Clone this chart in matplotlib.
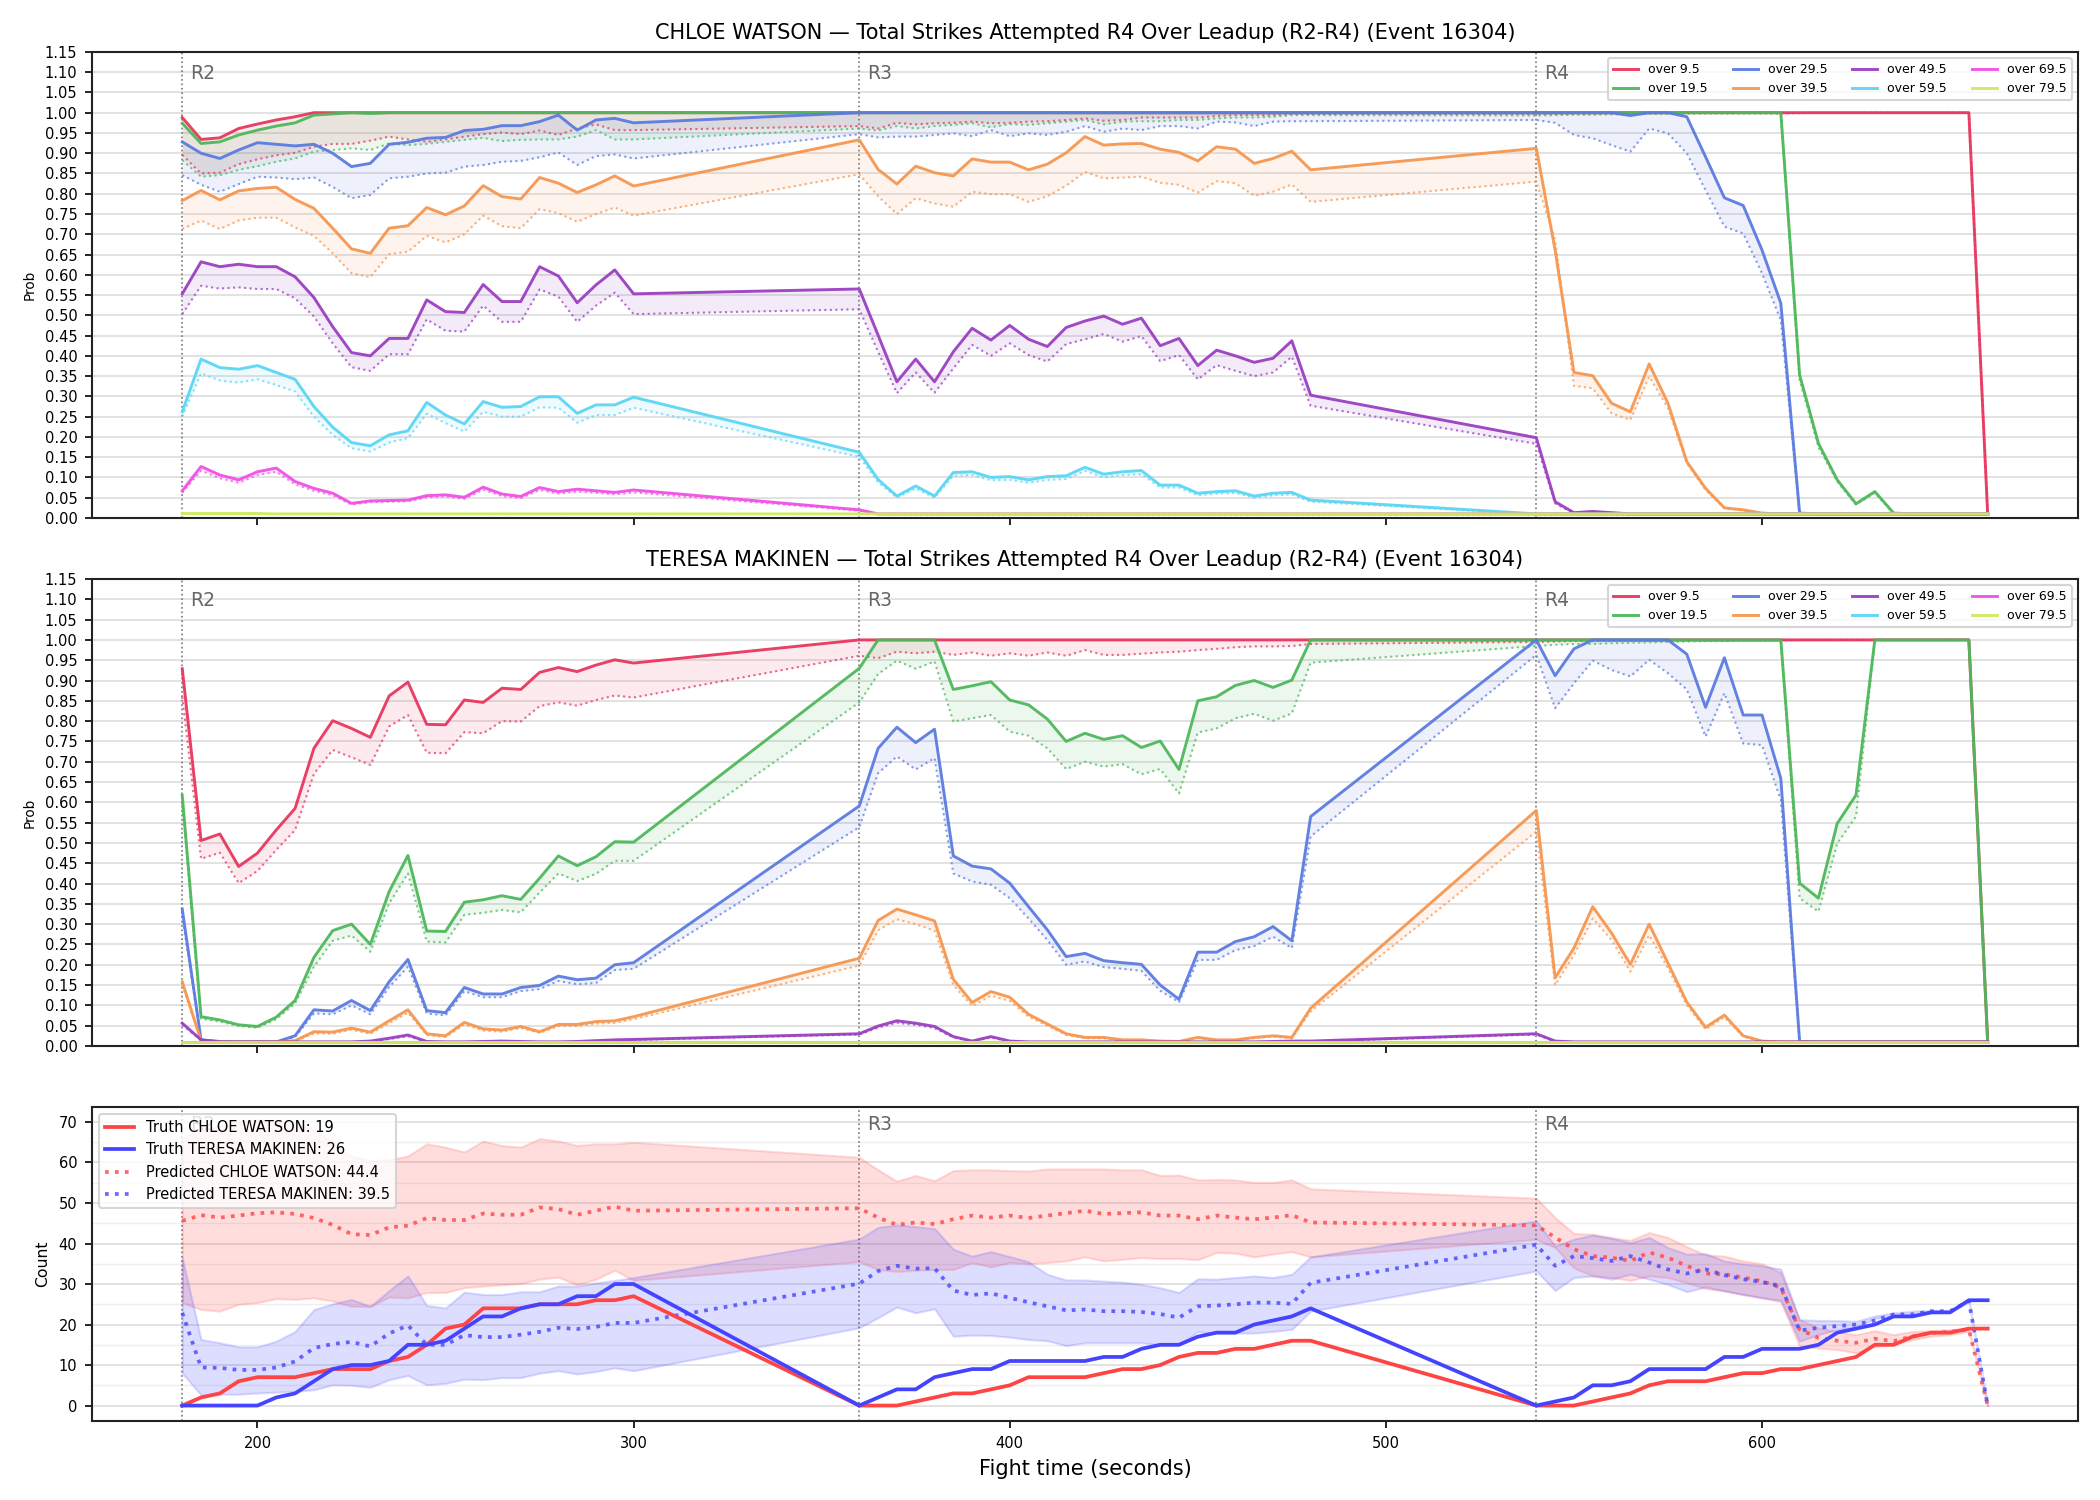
import matplotlib
matplotlib.use("Agg")
import matplotlib.pyplot as plt
import matplotlib.transforms as mtransforms
from matplotlib.ticker import MultipleLocator, FormatStrFormatter

plt.rcParams['font.family'] = ['DejaVu Sans']

# ---------------- time grid (seconds) ----------------
T = [180, 185, 190, 195, 200, 205, 210, 215, 220, 225, 230, 235, 240, 245, 250, 255, 260, 265, 270, 275, 280, 285, 290, 295, 300,
     360, 365, 370, 375, 380, 385, 390, 395, 400, 405, 410, 415, 420, 425, 430, 435, 440, 445, 450, 455, 460, 465, 470, 475, 480,
     540, 545, 550, 555, 560, 565, 570, 575, 580, 585, 590, 595, 600, 605, 610, 615, 620, 625, 630, 635, 640, 645, 650, 655, 660]

round_starts = [180, 360, 540]
round_labels = ["R2", "R3", "R4"]

line_labels = ["over 9.5", "over 19.5", "over 29.5", "over 39.5",
               "over 49.5", "over 59.5", "over 69.5", "over 79.5"]
line_colors = ["#e8365d", "#4db85a", "#5b7be0", "#f7964f",
               "#9b3fc2", "#5ad6f5", "#f24fe6", "#cdeb5f"]

# ---------------- CHLOE WATSON (solid = live, dotted = predicted) ----------------
c_s95 = ([0.988, 0.934, 0.938, 0.961, 0.972, 0.982, 0.990, 1, 1, 1, 1, 1, 1, 1, 1, 1, 1, 1, 1, 1, 1, 1, 1, 1, 1]
         + [1, 1, 1, 1, 1, 1, 1, 1, 1, 1, 1, 1, 1, 1, 1, 1, 1, 1, 1, 1, 1, 1, 1, 1, 1]
         + [1, 1, 1, 1, 1, 1, 1, 1, 1, 1, 1, 1, 1, 1, 1, 1, 1, 1, 1, 1, 1, 1, 1, 1, 0.01])
c_d95 = ([0.896, 0.850, 0.852, 0.873, 0.885, 0.895, 0.901, 0.916, 0.923, 0.923, 0.931, 0.941, 0.934, 0.928, 0.934, 0.941, 0.947, 0.951, 0.947, 0.956, 0.945, 0.961, 0.971, 0.957, 0.957]
         + [0.967, 0.961, 0.975, 0.971, 0.974, 0.975, 0.978, 0.974, 0.975, 0.978, 0.979, 0.982, 0.986, 0.980, 0.982, 0.988, 0.988, 0.988, 0.988, 0.992, 0.994, 0.994, 0.994, 0.997, 0.997]
         + [0.997, 0.997, 0.998, 0.998, 0.998, 0.998, 0.999, 0.999, 0.999, 0.999, 0.999, 0.999, 0.999, 0.998, 0.999, 1, 1, 1, 1, 1, 1, 1, 1, 1, 0.01])
c_s195 = ([0.974, 0.924, 0.928, 0.945, 0.957, 0.967, 0.975, 0.994, 0.997, 1, 0.998, 1, 1, 1, 1, 1, 1, 1, 1, 1, 1, 1, 1, 1, 1]
          + [1, 1, 1, 1, 1, 1, 1, 1, 1, 1, 1, 1, 1, 1, 1, 1, 1, 1, 1, 1, 1, 1, 1, 1, 1]
          + [1, 1, 1, 1, 1, 1, 1, 1, 1, 1, 1, 1, 1, 1, 0.353, 0.184, 0.094, 0.035, 0.065, 0.012, 0.01, 0.01, 0.01, 0.01, 0.01])
c_d195 = ([0.883, 0.842, 0.846, 0.859, 0.868, 0.879, 0.887, 0.904, 0.908, 0.912, 0.908, 0.924, 0.920, 0.923, 0.928, 0.933, 0.938, 0.930, 0.933, 0.934, 0.934, 0.941, 0.957, 0.934, 0.934]
          + [0.961, 0.956, 0.967, 0.961, 0.967, 0.970, 0.974, 0.964, 0.972, 0.970, 0.974, 0.978, 0.982, 0.971, 0.978, 0.979, 0.979, 0.982, 0.982, 0.986, 0.988, 0.988, 0.990, 0.994, 0.994]
          + [0.993, 0.994, 0.995, 0.995, 0.996, 0.996, 0.997, 0.997, 0.998, 0.998, 0.998, 0.998, 0.998, 0.998, 0.340, 0.175, 0.090, 0.033, 0.062, 0.011, 0.01, 0.01, 0.01, 0.01, 0.01])
c_s295 = ([0.928, 0.900, 0.887, 0.908, 0.926, 0.922, 0.918, 0.922, 0.900, 0.867, 0.875, 0.922, 0.927, 0.937, 0.939, 0.956, 0.959, 0.968, 0.968, 0.978, 0.994, 0.957, 0.982, 0.986, 0.975]
          + [1, 1, 1, 1, 1, 1, 1, 1, 1, 1, 1, 1, 1, 1, 1, 1, 1, 1, 1, 1, 1, 1, 1, 1, 1]
          + [1, 1, 1, 1, 1, 0.993, 1, 1, 0.990, 0.891, 0.790, 0.771, 0.661, 0.530, 0.012, 0.01, 0.01, 0.01, 0.01, 0.01, 0.01, 0.01, 0.01, 0.01, 0.01])
c_d295 = ([0.846, 0.822, 0.805, 0.824, 0.842, 0.840, 0.836, 0.840, 0.817, 0.789, 0.797, 0.838, 0.842, 0.850, 0.852, 0.867, 0.871, 0.879, 0.881, 0.890, 0.902, 0.871, 0.893, 0.897, 0.887]
          + [0.947, 0.939, 0.941, 0.941, 0.945, 0.949, 0.942, 0.957, 0.942, 0.949, 0.945, 0.953, 0.967, 0.953, 0.961, 0.957, 0.967, 0.967, 0.961, 0.978, 0.976, 0.967, 0.978, 0.979, 0.979]
          + [0.982, 0.975, 0.945, 0.937, 0.920, 0.904, 0.961, 0.949, 0.900, 0.809, 0.719, 0.702, 0.604, 0.488, 0.012, 0.01, 0.01, 0.01, 0.01, 0.01, 0.01, 0.01, 0.01, 0.01, 0.01])
c_s395 = ([0.783, 0.808, 0.785, 0.807, 0.813, 0.816, 0.786, 0.764, 0.715, 0.664, 0.653, 0.715, 0.721, 0.766, 0.748, 0.770, 0.820, 0.793, 0.787, 0.840, 0.826, 0.803, 0.822, 0.844, 0.819]
          + [0.933, 0.860, 0.824, 0.868, 0.852, 0.844, 0.886, 0.878, 0.878, 0.859, 0.873, 0.901, 0.941, 0.920, 0.923, 0.924, 0.910, 0.902, 0.881, 0.916, 0.910, 0.875, 0.887, 0.905, 0.859]
          + [0.912, 0.661, 0.359, 0.351, 0.283, 0.262, 0.380, 0.283, 0.139, 0.073, 0.025, 0.020, 0.012, 0.01, 0.01, 0.01, 0.01, 0.01, 0.01, 0.01, 0.01, 0.01, 0.01, 0.01, 0.01])
c_d395 = ([0.713, 0.734, 0.713, 0.734, 0.741, 0.741, 0.717, 0.696, 0.653, 0.604, 0.594, 0.651, 0.657, 0.696, 0.680, 0.700, 0.746, 0.720, 0.715, 0.762, 0.752, 0.731, 0.750, 0.766, 0.746]
          + [0.848, 0.794, 0.750, 0.789, 0.776, 0.768, 0.805, 0.799, 0.799, 0.780, 0.794, 0.820, 0.854, 0.838, 0.840, 0.842, 0.827, 0.822, 0.803, 0.831, 0.826, 0.795, 0.805, 0.823, 0.780]
          + [0.830, 0.686, 0.326, 0.320, 0.258, 0.242, 0.349, 0.271, 0.135, 0.069, 0.024, 0.018, 0.011, 0.01, 0.01, 0.01, 0.01, 0.01, 0.01, 0.01, 0.01, 0.01, 0.01, 0.01, 0.01])
c_s495 = ([0.553, 0.632, 0.620, 0.626, 0.620, 0.620, 0.595, 0.544, 0.472, 0.408, 0.400, 0.443, 0.443, 0.538, 0.509, 0.507, 0.576, 0.534, 0.534, 0.620, 0.597, 0.531, 0.575, 0.612, 0.553]
          + [0.565, 0.451, 0.336, 0.392, 0.336, 0.410, 0.468, 0.439, 0.475, 0.441, 0.423, 0.470, 0.486, 0.498, 0.478, 0.493, 0.425, 0.443, 0.376, 0.414, 0.400, 0.384, 0.394, 0.437, 0.303]
          + [0.198, 0.040, 0.013, 0.016, 0.013, 0.01, 0.01, 0.01, 0.01, 0.01, 0.01, 0.01, 0.01, 0.01, 0.01, 0.01, 0.01, 0.01, 0.01, 0.01, 0.01, 0.01, 0.01, 0.01, 0.01])
c_d495 = ([0.503, 0.573, 0.566, 0.569, 0.565, 0.565, 0.542, 0.497, 0.431, 0.372, 0.363, 0.404, 0.404, 0.490, 0.462, 0.460, 0.524, 0.484, 0.484, 0.564, 0.546, 0.484, 0.524, 0.556, 0.503]
          + [0.515, 0.410, 0.308, 0.359, 0.309, 0.369, 0.427, 0.400, 0.431, 0.402, 0.386, 0.429, 0.441, 0.454, 0.435, 0.449, 0.387, 0.402, 0.342, 0.377, 0.363, 0.350, 0.359, 0.398, 0.277]
          + [0.183, 0.036, 0.011, 0.013, 0.011, 0.01, 0.01, 0.01, 0.01, 0.01, 0.01, 0.01, 0.01, 0.01, 0.01, 0.01, 0.01, 0.01, 0.01, 0.01, 0.01, 0.01, 0.01, 0.01, 0.01])
c_s595 = ([0.262, 0.392, 0.371, 0.367, 0.376, 0.359, 0.342, 0.275, 0.224, 0.186, 0.178, 0.205, 0.215, 0.285, 0.254, 0.232, 0.287, 0.273, 0.275, 0.299, 0.299, 0.258, 0.279, 0.279, 0.298]
          + [0.162, 0.095, 0.054, 0.079, 0.054, 0.112, 0.114, 0.100, 0.102, 0.094, 0.102, 0.104, 0.125, 0.108, 0.114, 0.117, 0.081, 0.081, 0.061, 0.065, 0.067, 0.054, 0.061, 0.063, 0.044]
          + [0.01, 0.01, 0.01, 0.01, 0.01, 0.01, 0.01, 0.01, 0.01, 0.01, 0.01, 0.01, 0.01, 0.01, 0.01, 0.01, 0.01, 0.01, 0.01, 0.01, 0.01, 0.01, 0.01, 0.01, 0.01])
c_d595 = ([0.250, 0.357, 0.339, 0.334, 0.342, 0.328, 0.312, 0.250, 0.205, 0.172, 0.164, 0.186, 0.197, 0.257, 0.234, 0.213, 0.262, 0.250, 0.250, 0.273, 0.272, 0.235, 0.254, 0.254, 0.272]
          + [0.151, 0.088, 0.050, 0.073, 0.050, 0.104, 0.106, 0.093, 0.094, 0.087, 0.094, 0.096, 0.116, 0.100, 0.106, 0.108, 0.075, 0.075, 0.056, 0.060, 0.062, 0.050, 0.056, 0.058, 0.040]
          + [0.009, 0.009, 0.009, 0.009, 0.009, 0.009, 0.009, 0.009, 0.009, 0.009, 0.009, 0.009, 0.009, 0.009, 0.009, 0.009, 0.009, 0.009, 0.009, 0.009, 0.009, 0.009, 0.009, 0.009, 0.009])
c_s695 = ([0.067, 0.127, 0.106, 0.094, 0.114, 0.123, 0.090, 0.073, 0.061, 0.036, 0.042, 0.043, 0.044, 0.055, 0.057, 0.051, 0.076, 0.059, 0.053, 0.075, 0.065, 0.071, 0.067, 0.063, 0.069]
          + [0.020, 0.01, 0.01, 0.01, 0.01, 0.01, 0.01, 0.01, 0.01, 0.01, 0.01, 0.01, 0.01, 0.01, 0.01, 0.01, 0.01, 0.01, 0.01, 0.01, 0.01, 0.01, 0.01, 0.01, 0.01]
          + [0.01, 0.01, 0.01, 0.01, 0.01, 0.01, 0.01, 0.01, 0.01, 0.01, 0.01, 0.01, 0.01, 0.01, 0.01, 0.01, 0.01, 0.01, 0.01, 0.01, 0.01, 0.01, 0.01, 0.01, 0.01])
c_d695 = ([0.062, 0.117, 0.098, 0.087, 0.106, 0.114, 0.083, 0.067, 0.056, 0.033, 0.039, 0.040, 0.041, 0.051, 0.053, 0.047, 0.070, 0.054, 0.049, 0.069, 0.060, 0.065, 0.062, 0.058, 0.063]
          + [0.018, 0.009, 0.009, 0.009, 0.009, 0.009, 0.009, 0.009, 0.009, 0.009, 0.009, 0.009, 0.009, 0.009, 0.009, 0.009, 0.009, 0.009, 0.009, 0.009, 0.009, 0.009, 0.009, 0.009, 0.009]
          + [0.009, 0.009, 0.009, 0.009, 0.009, 0.009, 0.009, 0.009, 0.009, 0.009, 0.009, 0.009, 0.009, 0.009, 0.009, 0.009, 0.009, 0.009, 0.009, 0.009, 0.009, 0.009, 0.009, 0.009, 0.009])
c_s795 = ([0.011, 0.011, 0.011, 0.011, 0.011, 0.010, 0.010, 0.010, 0.010, 0.010, 0.010, 0.010, 0.010, 0.010, 0.010, 0.010, 0.010, 0.010, 0.010, 0.010, 0.010, 0.010, 0.010, 0.010, 0.010]
          + [0.01, 0.01, 0.01, 0.01, 0.01, 0.01, 0.01, 0.01, 0.01, 0.01, 0.01, 0.01, 0.01, 0.01, 0.01, 0.01, 0.01, 0.01, 0.01, 0.01, 0.01, 0.01, 0.01, 0.01, 0.01]
          + [0.01, 0.01, 0.01, 0.01, 0.01, 0.01, 0.01, 0.01, 0.01, 0.01, 0.01, 0.01, 0.01, 0.01, 0.01, 0.01, 0.01, 0.01, 0.01, 0.01, 0.01, 0.01, 0.01, 0.01, 0.01])
c_d795 = ([0.009, 0.009, 0.009, 0.009, 0.009, 0.009, 0.009, 0.009, 0.009, 0.009, 0.009, 0.009, 0.009, 0.009, 0.009, 0.009, 0.009, 0.009, 0.009, 0.009, 0.009, 0.009, 0.009, 0.009, 0.009]
          + [0.009, 0.009, 0.009, 0.009, 0.009, 0.009, 0.009, 0.009, 0.009, 0.009, 0.009, 0.009, 0.009, 0.009, 0.009, 0.009, 0.009, 0.009, 0.009, 0.009, 0.009, 0.009, 0.009, 0.009, 0.009]
          + [0.009, 0.009, 0.009, 0.009, 0.009, 0.009, 0.009, 0.009, 0.009, 0.009, 0.009, 0.009, 0.009, 0.009, 0.009, 0.009, 0.009, 0.009, 0.009, 0.009, 0.009, 0.009, 0.009, 0.009, 0.009])

# ---------------- TERESA MAKINEN ----------------
t_s95 = ([0.929, 0.506, 0.522, 0.442, 0.475, 0.532, 0.585, 0.733, 0.801, 0.782, 0.760, 0.862, 0.896, 0.792, 0.791, 0.852, 0.846, 0.881, 0.878, 0.920, 0.932, 0.922, 0.938, 0.951, 0.943]
         + [1, 1, 1, 1, 1, 1, 1, 1, 1, 1, 1, 1, 1, 1, 1, 1, 1, 1, 1, 1, 1, 1, 1, 1, 1]
         + [1, 1, 1, 1, 1, 1, 1, 1, 1, 1, 1, 1, 1, 1, 1, 1, 1, 1, 1, 1, 1, 1, 1, 1, 0.01])
t_d95 = ([0.860, 0.461, 0.476, 0.401, 0.431, 0.483, 0.532, 0.670, 0.729, 0.711, 0.692, 0.787, 0.815, 0.722, 0.721, 0.773, 0.770, 0.800, 0.799, 0.837, 0.846, 0.838, 0.852, 0.863, 0.858]
         + [0.961, 0.955, 0.971, 0.967, 0.971, 0.963, 0.969, 0.961, 0.967, 0.961, 0.969, 0.961, 0.975, 0.963, 0.963, 0.966, 0.969, 0.971, 0.975, 0.978, 0.982, 0.984, 0.984, 0.985, 0.990]
         + [0.995, 0.996, 0.997, 0.997, 0.998, 0.998, 0.998, 0.999, 0.999, 0.999, 0.999, 0.999, 0.999, 0.999, 1, 1, 1, 1, 1, 1, 1, 1, 1, 1, 0.01])
t_s195 = ([0.617, 0.072, 0.064, 0.052, 0.048, 0.071, 0.112, 0.218, 0.284, 0.300, 0.250, 0.380, 0.469, 0.283, 0.282, 0.354, 0.360, 0.370, 0.361, 0.413, 0.468, 0.444, 0.466, 0.503, 0.502]
          + [0.930, 1, 1, 1, 1, 0.878, 0.887, 0.897, 0.852, 0.840, 0.805, 0.750, 0.770, 0.755, 0.764, 0.735, 0.751, 0.681, 0.850, 0.860, 0.888, 0.900, 0.883, 0.901, 1]
          + [1, 1, 1, 1, 1, 1, 1, 1, 1, 1, 1, 1, 1, 1, 0.401, 0.364, 0.548, 0.618, 1, 1, 1, 1, 1, 1, 0.01])
t_d195 = ([0.600, 0.067, 0.060, 0.049, 0.045, 0.066, 0.105, 0.195, 0.259, 0.272, 0.232, 0.351, 0.425, 0.257, 0.255, 0.323, 0.328, 0.335, 0.329, 0.378, 0.425, 0.406, 0.424, 0.456, 0.456]
          + [0.846, 0.916, 0.949, 0.929, 0.947, 0.799, 0.807, 0.815, 0.774, 0.764, 0.733, 0.682, 0.700, 0.688, 0.694, 0.669, 0.682, 0.622, 0.772, 0.782, 0.807, 0.818, 0.801, 0.819, 0.944]
          + [0.985, 0.988, 0.990, 0.990, 0.992, 0.993, 0.994, 0.995, 0.996, 0.997, 0.997, 0.998, 0.998, 0.998, 0.364, 0.331, 0.499, 0.565, 1, 1, 1, 1, 1, 1, 0.01])
t_s295 = ([0.337, 0.015, 0.011, 0.010, 0.010, 0.010, 0.025, 0.089, 0.086, 0.112, 0.087, 0.158, 0.213, 0.087, 0.082, 0.144, 0.128, 0.128, 0.144, 0.149, 0.172, 0.163, 0.167, 0.200, 0.205]
          + [0.591, 0.733, 0.785, 0.747, 0.780, 0.468, 0.443, 0.436, 0.401, 0.343, 0.286, 0.220, 0.228, 0.210, 0.205, 0.201, 0.150, 0.115, 0.231, 0.231, 0.257, 0.269, 0.294, 0.259, 0.565]
          + [1, 0.912, 0.978, 1, 1, 1, 1, 1, 0.965, 0.834, 0.956, 0.815, 0.815, 0.659, 0.011, 0.01, 0.01, 0.01, 0.01, 0.01, 0.01, 0.01, 0.01, 0.01, 0.01])
t_d295 = ([0.320, 0.014, 0.010, 0.010, 0.010, 0.010, 0.022, 0.080, 0.078, 0.100, 0.078, 0.145, 0.195, 0.080, 0.075, 0.135, 0.120, 0.120, 0.135, 0.140, 0.160, 0.152, 0.155, 0.187, 0.190]
          + [0.539, 0.672, 0.713, 0.681, 0.709, 0.425, 0.405, 0.397, 0.364, 0.314, 0.261, 0.200, 0.208, 0.194, 0.190, 0.185, 0.136, 0.108, 0.212, 0.212, 0.236, 0.246, 0.269, 0.241, 0.516]
          + [0.963, 0.832, 0.893, 0.949, 0.926, 0.910, 0.951, 0.918, 0.878, 0.762, 0.869, 0.745, 0.741, 0.606, 0.011, 0.01, 0.01, 0.01, 0.01, 0.01, 0.01, 0.01, 0.01, 0.01, 0.01])
t_s395 = ([0.158, 0.013, 0.010, 0.010, 0.010, 0.010, 0.013, 0.035, 0.034, 0.044, 0.034, 0.062, 0.089, 0.030, 0.025, 0.058, 0.042, 0.039, 0.048, 0.035, 0.053, 0.053, 0.060, 0.062, 0.072]
          + [0.216, 0.309, 0.337, 0.323, 0.308, 0.164, 0.107, 0.134, 0.120, 0.078, 0.054, 0.030, 0.021, 0.021, 0.015, 0.015, 0.012, 0.011, 0.021, 0.015, 0.015, 0.021, 0.025, 0.021, 0.093]
          + [0.580, 0.168, 0.241, 0.343, 0.278, 0.201, 0.300, 0.204, 0.108, 0.046, 0.076, 0.025, 0.012, 0.01, 0.01, 0.01, 0.01, 0.01, 0.01, 0.01, 0.01, 0.01, 0.01, 0.01, 0.01])
t_d395 = ([0.150, 0.012, 0.009, 0.009, 0.009, 0.009, 0.012, 0.031, 0.030, 0.040, 0.030, 0.056, 0.082, 0.027, 0.022, 0.053, 0.038, 0.035, 0.044, 0.032, 0.049, 0.049, 0.055, 0.057, 0.066]
          + [0.198, 0.285, 0.312, 0.300, 0.284, 0.150, 0.098, 0.124, 0.111, 0.072, 0.050, 0.027, 0.019, 0.019, 0.013, 0.013, 0.011, 0.010, 0.019, 0.013, 0.013, 0.019, 0.023, 0.019, 0.085]
          + [0.528, 0.150, 0.224, 0.314, 0.261, 0.183, 0.273, 0.191, 0.101, 0.041, 0.071, 0.023, 0.011, 0.009, 0.009, 0.009, 0.009, 0.009, 0.009, 0.009, 0.009, 0.009, 0.009, 0.009, 0.009])
t_s495 = ([0.056, 0.015, 0.010, 0.010, 0.010, 0.010, 0.010, 0.010, 0.010, 0.010, 0.012, 0.019, 0.027, 0.011, 0.010, 0.010, 0.011, 0.012, 0.011, 0.010, 0.010, 0.011, 0.013, 0.015, 0.016]
          + [0.030, 0.049, 0.062, 0.056, 0.048, 0.023, 0.012, 0.023, 0.012, 0.010, 0.010, 0.010, 0.010, 0.010, 0.010, 0.010, 0.010, 0.010, 0.010, 0.010, 0.010, 0.010, 0.011, 0.012, 0.012]
          + [0.030, 0.012, 0.01, 0.01, 0.01, 0.01, 0.01, 0.01, 0.01, 0.01, 0.01, 0.01, 0.01, 0.01, 0.01, 0.01, 0.01, 0.01, 0.01, 0.01, 0.01, 0.01, 0.01, 0.01, 0.01])
t_d495 = ([0.052, 0.014, 0.009, 0.009, 0.009, 0.009, 0.009, 0.009, 0.009, 0.009, 0.011, 0.017, 0.024, 0.010, 0.009, 0.009, 0.010, 0.011, 0.010, 0.009, 0.009, 0.010, 0.012, 0.014, 0.015]
          + [0.028, 0.045, 0.057, 0.052, 0.044, 0.021, 0.011, 0.021, 0.011, 0.009, 0.009, 0.009, 0.009, 0.009, 0.009, 0.009, 0.009, 0.009, 0.009, 0.009, 0.009, 0.009, 0.010, 0.011, 0.011]
          + [0.028, 0.011, 0.009, 0.009, 0.009, 0.009, 0.009, 0.009, 0.009, 0.009, 0.009, 0.009, 0.009, 0.009, 0.009, 0.009, 0.009, 0.009, 0.009, 0.009, 0.009, 0.009, 0.009, 0.009, 0.009])
t_s595 = ([0.01, 0.01, 0.01, 0.01, 0.01, 0.01, 0.01, 0.01, 0.01, 0.01, 0.01, 0.01, 0.01, 0.01, 0.01, 0.01, 0.01, 0.01, 0.01, 0.01, 0.01, 0.01, 0.01, 0.01, 0.01]
          + [0.01, 0.01, 0.01, 0.01, 0.01, 0.01, 0.01, 0.01, 0.01, 0.01, 0.01, 0.01, 0.01, 0.01, 0.01, 0.01, 0.01, 0.01, 0.01, 0.01, 0.01, 0.01, 0.01, 0.01, 0.01]
          + [0.01, 0.01, 0.01, 0.01, 0.01, 0.01, 0.01, 0.01, 0.01, 0.01, 0.01, 0.01, 0.01, 0.01, 0.01, 0.01, 0.01, 0.01, 0.01, 0.01, 0.01, 0.01, 0.01, 0.01, 0.01])
t_d595 = ([0.009, 0.009, 0.009, 0.009, 0.009, 0.009, 0.009, 0.009, 0.009, 0.009, 0.009, 0.009, 0.009, 0.009, 0.009, 0.009, 0.009, 0.009, 0.009, 0.009, 0.009, 0.009, 0.009, 0.009, 0.009]
          + [0.009, 0.009, 0.009, 0.009, 0.009, 0.009, 0.009, 0.009, 0.009, 0.009, 0.009, 0.009, 0.009, 0.009, 0.009, 0.009, 0.009, 0.009, 0.009, 0.009, 0.009, 0.009, 0.009, 0.009, 0.009]
          + [0.009, 0.009, 0.009, 0.009, 0.009, 0.009, 0.009, 0.009, 0.009, 0.009, 0.009, 0.009, 0.009, 0.009, 0.009, 0.009, 0.009, 0.009, 0.009, 0.009, 0.009, 0.009, 0.009, 0.009, 0.009])
t_s695 = list(t_s595)
t_d695 = list(t_d595)
t_s795 = list(t_s595)
t_d795 = list(t_d595)

chloe_solid = [c_s95, c_s195, c_s295, c_s395, c_s495, c_s595, c_s695, c_s795]
chloe_dotted = [c_d95, c_d195, c_d295, c_d395, c_d495, c_d595, c_d695, c_d795]
teresa_solid = [t_s95, t_s195, t_s295, t_s395, t_s495, t_s595, t_s695, t_s795]
teresa_dotted = [t_d95, t_d195, t_d295, t_d395, t_d495, t_d595, t_d695, t_d795]

# ---------------- Count panel ----------------
truth_chloe = ([0, 2, 3, 6, 7, 7, 7, 8, 9, 9, 9, 11, 12, 15, 19, 20, 24, 24, 24, 25, 25, 25, 26, 26, 27]
               + [0, 0, 0, 1, 2, 3, 3, 4, 5, 7, 7, 7, 7, 8, 9, 9, 10, 12, 13, 13, 14, 14, 15, 16, 16]
               + [0, 0, 0, 1, 2, 3, 5, 6, 6, 6, 7, 8, 8, 9, 9, 10, 11, 12, 15, 15, 17, 18, 18, 19, 19])
truth_teresa = ([0, 0, 0, 0, 0, 2, 3, 6, 9, 10, 10, 11, 15, 15, 16, 19, 22, 22, 24, 25, 25, 27, 27, 30, 30]
                + [0, 2, 4, 4, 7, 8, 9, 9, 11, 11, 11, 11, 11, 12, 12, 14, 15, 15, 17, 18, 18, 20, 21, 22, 24]
                + [0, 1, 2, 5, 5, 6, 9, 9, 9, 9, 12, 12, 14, 14, 14, 15, 18, 19, 20, 22, 22, 23, 23, 26, 26])
pred_chloe = ([45.6, 47.0, 46.4, 46.9, 47.5, 47.7, 47.3, 46.3, 44.6, 42.3, 42.1, 44.0, 44.4, 46.3, 45.8, 45.8, 47.4, 47.1, 47.1, 48.9, 48.5, 47.1, 48.1, 49.1, 48.1]
              + [48.7, 46.4, 44.6, 45.2, 44.8, 46.0, 46.9, 46.4, 46.9, 46.3, 46.9, 47.5, 48.1, 47.3, 47.5, 47.7, 46.9, 46.9, 46.0, 46.9, 46.4, 46.0, 46.4, 47.0, 45.2]
              + [44.5, 41.5, 38.6, 36.9, 36.5, 35.7, 37.8, 36.5, 34.5, 32.6, 32.4, 31.6, 30.7, 29.1, 18.8, 16.7, 16.0, 15.5, 16.5, 15.9, 17.1, 17.9, 18.2, 18.8, 0])
pred_chloe_hi = ([66.0, 68.0, 69.0, 70.0, 70.4, 70.0, 69.5, 68.0, 65.0, 61.5, 60.5, 60.7, 61.6, 64.6, 63.8, 62.6, 65.3, 64.2, 63.8, 65.9, 65.3, 64.2, 64.6, 64.6, 65.0]
                 + [61.3, 58.2, 55.4, 56.8, 55.5, 58.0, 58.2, 58.2, 58.0, 57.9, 58.4, 58.4, 58.4, 58.4, 58.2, 58.2, 56.8, 56.9, 55.7, 55.8, 55.7, 55.1, 55.1, 55.7, 53.5]
                 + [51.2, 46.4, 42.5, 42.3, 41.5, 40.8, 42.7, 41.5, 39.2, 37.2, 36.9, 35.7, 35.0, 32.8, 21.2, 19.2, 18.2, 17.5, 18.5, 17.5, 18.3, 18.5, 18.8, 19.0, 0])
pred_chloe_lo = ([25.4, 23.7, 23.3, 25.0, 25.4, 26.4, 26.2, 26.6, 25.8, 24.5, 24.5, 26.8, 26.6, 27.9, 27.9, 29.1, 29.5, 29.8, 30.1, 31.2, 31.7, 29.8, 31.2, 33.4, 30.9]
                 + [35.5, 33.6, 33.1, 33.4, 33.6, 33.6, 35.3, 34.2, 35.3, 35.0, 35.3, 35.7, 36.7, 35.7, 36.1, 36.5, 36.3, 36.3, 36.0, 37.8, 37.6, 36.7, 37.4, 38.0, 36.7]
                 + [41.0, 39.0, 34.0, 32.0, 31.6, 30.9, 32.0, 31.6, 30.3, 28.9, 28.3, 27.4, 26.6, 25.6, 14.6, 14.2, 13.8, 13.0, 14.6, 15.0, 16.3, 17.1, 17.5, 18.3, 0])
pred_teresa = ([22.9, 9.4, 9.3, 8.8, 8.8, 9.4, 10.9, 14.2, 15.2, 15.7, 14.6, 17.8, 19.8, 15.0, 15.0, 17.4, 16.9, 16.9, 17.5, 18.2, 19.2, 18.9, 19.4, 20.4, 20.4]
               + [30.1, 33.2, 34.5, 33.8, 33.9, 28.4, 27.3, 27.7, 26.6, 25.5, 24.5, 23.5, 23.7, 23.3, 23.3, 23.1, 22.6, 21.7, 24.5, 24.7, 25.0, 25.4, 25.4, 25.1, 30.3]
               + [39.7, 34.5, 36.9, 36.4, 35.7, 36.9, 35.3, 33.6, 32.6, 33.6, 32.2, 31.2, 30.5, 29.5, 18.5, 19.2, 19.6, 20.0, 21.0, 22.5, 22.5, 23.3, 23.3, 25.8, 0])
pred_teresa_hi = ([36.5, 16.3, 15.5, 14.5, 14.5, 15.9, 18.3, 23.7, 25.1, 26.2, 24.5, 28.4, 32.0, 24.7, 24.1, 28.0, 27.4, 27.4, 28.1, 28.1, 29.5, 29.5, 30.3, 30.9, 31.6]
                  + [41.1, 44.0, 44.6, 44.2, 43.7, 38.6, 36.9, 38.0, 36.8, 35.5, 32.4, 31.0, 31.0, 30.7, 30.5, 29.9, 29.1, 27.9, 31.3, 31.2, 31.6, 32.0, 31.6, 32.4, 36.7]
                  + [45.6, 39.4, 41.1, 42.1, 41.3, 40.2, 41.5, 39.0, 37.4, 37.5, 35.7, 35.0, 34.5, 33.7, 21.2, 21.0, 21.0, 20.8, 22.1, 22.9, 23.3, 23.5, 23.5, 26.0, 0])
pred_teresa_lo = ([8.0, 2.6, 2.8, 2.8, 3.1, 3.3, 3.5, 3.9, 5.1, 5.0, 4.5, 6.4, 7.4, 5.1, 5.5, 6.5, 6.4, 6.9, 6.9, 8.0, 8.6, 7.8, 8.4, 9.3, 8.6]
                  + [19.2, 21.7, 24.3, 22.9, 23.9, 17.1, 17.4, 17.3, 16.9, 16.3, 16.0, 14.8, 15.5, 15.5, 15.5, 15.5, 15.0, 15.0, 18.2, 17.9, 17.9, 17.9, 18.3, 18.8, 23.3]
                  + [33.2, 28.4, 31.6, 32.0, 31.2, 32.4, 31.2, 29.9, 28.1, 29.3, 28.3, 27.4, 26.6, 26.0, 15.9, 17.5, 18.8, 19.3, 21.5, 22.1, 22.5, 22.9, 23.1, 25.6, 0])

truth_chloe_final = 19
truth_teresa_final = 26
pred_chloe_final = 44.4
pred_teresa_final = 39.5

RED = "#ff4444"
BLUE = "#4444ff"

# ---------------- figure ----------------
fig = plt.figure(figsize=(14, 10), dpi=150)
ax1 = fig.add_axes([0.0438, 0.6547, 0.9457, 0.3107])
ax2 = fig.add_axes([0.0438, 0.3027, 0.9457, 0.3113], sharex=ax1)
ax3 = fig.add_axes([0.0438, 0.0527, 0.9457, 0.2093], sharex=ax1)


def style_axis(ax):
    ax.set_axisbelow(True)
    ax.yaxis.grid(True, which='major', color='#dddddd', lw=0.8)
    ax.xaxis.grid(False)
    for sp in ax.spines.values():
        sp.set_linewidth(1.0)
        sp.set_color('#222222')
    ax.tick_params(labelsize=7, length=3.5, width=0.8)


def round_markers(ax):
    trans = mtransforms.blended_transform_factory(ax.transData, ax.transAxes)
    for x, lab in zip(round_starts, round_labels):
        ax.axvline(x, color='#777777', ls=':', lw=0.8, zorder=1)
        ax.text(x + 2, 0.975, lab, transform=trans, ha='left', va='top',
                fontsize=9, color='#666666', zorder=2)


def prob_panel(ax, solids, dotteds, title):
    style_axis(ax)
    for lab, col, s, d in zip(line_labels, line_colors, solids, dotteds):
        ax.fill_between(T, s, d, color=col, alpha=0.1, lw=0, zorder=2)
        ax.plot(T, d, ls=':', color=col, lw=1.0, alpha=0.75, zorder=3)
        ax.plot(T, s, ls='-', color=col, lw=1.4, alpha=0.95, label=lab, zorder=4)
    round_markers(ax)
    ax.set_ylim(0, 1.15)
    ax.yaxis.set_major_locator(MultipleLocator(0.05))
    ax.yaxis.set_major_formatter(FormatStrFormatter('%.2f'))
    ax.set_ylabel('Prob', fontsize=6.5)
    ax.set_title(title, fontsize=10)
    ax.legend(loc='upper right', ncol=4, fontsize=6, framealpha=0.8)
    plt.setp(ax.get_xticklabels(), visible=False)


prob_panel(ax1, chloe_solid, chloe_dotted,
           "CHLOE WATSON \u2014 Total Strikes Attempted R4 Over Leadup (R2-R4) (Event 16304)")
prob_panel(ax2, teresa_solid, teresa_dotted,
           "TERESA MAKINEN \u2014 Total Strikes Attempted R4 Over Leadup (R2-R4) (Event 16304)")

# count panel
style_axis(ax3)
ax3.yaxis.set_minor_locator(MultipleLocator(5))
ax3.yaxis.grid(True, which='minor', color='#eeeeee', lw=0.7)
ax3.tick_params(axis='y', which='minor', length=0)
ax3.fill_between(T, pred_chloe_lo, pred_chloe_hi, color=RED, alpha=0.18, lw=1, zorder=2)
ax3.fill_between(T, pred_teresa_lo, pred_teresa_hi, color=BLUE, alpha=0.18, lw=1, zorder=2)
ax3.plot(T, truth_chloe, color=RED, lw=1.8, label=f"Truth CHLOE WATSON: {truth_chloe_final}", zorder=4)
ax3.plot(T, truth_teresa, color=BLUE, lw=1.8, label=f"Truth TERESA MAKINEN: {truth_teresa_final}", zorder=4)
ax3.plot(T, pred_chloe, color=RED, lw=1.8, ls=':', alpha=0.8,
         label=f"Predicted CHLOE WATSON: {pred_chloe_final}", zorder=3)
ax3.plot(T, pred_teresa, color=BLUE, lw=1.8, ls=':', alpha=0.8,
         label=f"Predicted TERESA MAKINEN: {pred_teresa_final}", zorder=3)
round_markers(ax3)
ax3.set_ylim(-3.8, 73.7)
ax3.yaxis.set_major_locator(MultipleLocator(10))
ax3.set_ylabel('Count', fontsize=7.5)
ax3.set_xlabel('Fight time (seconds)', fontsize=10)
leg = ax3.legend(loc='upper left', fontsize=7, framealpha=0.8)
leg.set_zorder(10)

ax3.set_xlim(156, 684)
ax3.xaxis.set_major_locator(MultipleLocator(100))

fig.savefig('out.png', dpi=150)
